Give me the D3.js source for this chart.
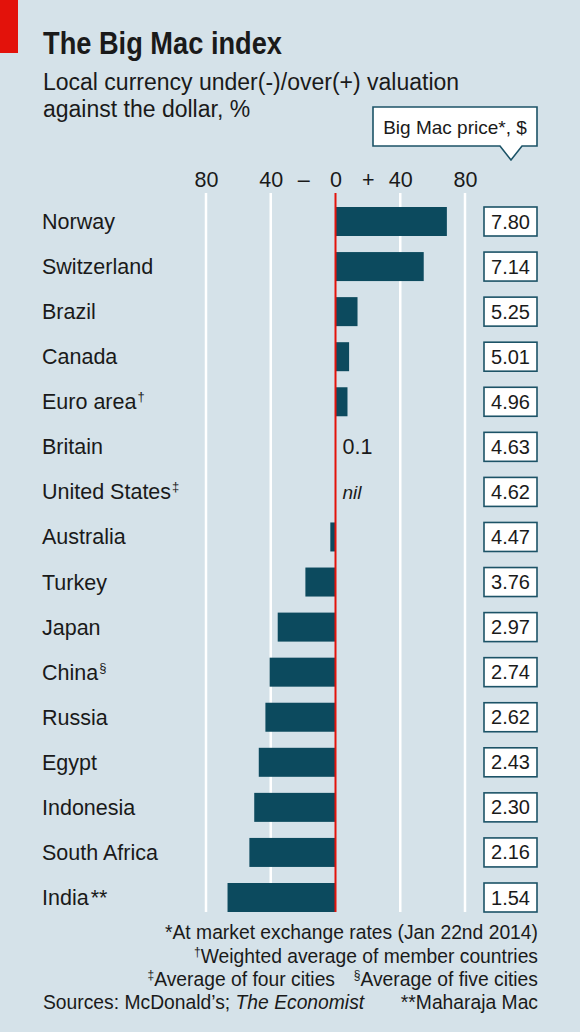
<!DOCTYPE html>
<html lang="en">
<head>
<meta charset="UTF-8" />
<title>The Big Mac index</title>
<script src="https://d3js.org/d3.v7.min.js"></script>
<style>
  body { margin: 0; background: #d5e2e9; }
  svg { display: block; font-family: "Liberation Sans", Arial, sans-serif; }
  .grid { stroke: #fff; stroke-width: 2.5; }
  .zero { stroke: #e3120b; stroke-width: 2; }
  .bar { fill: #0c4a5e; }
  .lbl { font-size: 21.5px; fill: #1a1a1a; }
  .price-box { fill: #fff; stroke: #1c5367; stroke-width: 1.6; }
  .price { font-size: 20px; fill: #1a1a1a; text-anchor: middle; }
  .note { font-size: 19.3px; fill: #1a1a1a; }
</style>
</head>
<body>
<script>
// data
var countries = ["Norway", "Switzerland", "Brazil", "Canada", "Euro area", "Britain",
  "United States", "Australia", "Turkey", "Japan", "China", "Russia", "Egypt",
  "Indonesia", "South Africa", "India"];
var marks = ["", "", "", "", "\u2020", "", "\u2021", "", "", "", "\u00a7", "", "", "", "", "**"];
var valuation = [68.8, 54.5, 13.6, 8.4, 7.4, 0.1, 0, -3.2, -18.6, -35.7, -40.7, -43.3,
  -47.4, -50.2, -53.2, -66.7];
var prices = ["7.80", "7.14", "5.25", "5.01", "4.96", "4.63", "4.62", "4.47", "3.76",
  "2.97", "2.74", "2.62", "2.43", "2.30", "2.16", "1.54"];
var valueNotes = ["", "", "", "", "", "0.1", "nil", "", "", "", "", "", "", "", "", ""];
var gridTicks = [-80, -40, 40, 80];
var axisTicks = [-80, -40, -20, 0, 20, 40, 80];

var width = 580, height = 1032;

var rows = countries.map(function(c, i) {
  return { name: c, mark: marks[i], v: valuation[i], price: prices[i], note: valueNotes[i] };
});

var svg = d3.select("body").append("svg")
  .attr("width", width).attr("height", height);

svg.append("rect").attr("width", width).attr("height", height).attr("fill", "#d5e2e9");
svg.append("rect").attr("x", 0).attr("y", 0).attr("width", 18).attr("height", 53).attr("fill", "#e3120b");

// titles
svg.append("text").attr("x", 43).attr("y", 54)
  .attr("font-size", 31).attr("font-weight", "bold").attr("fill", "#1a1a1a")
  .attr("textLength", 239).attr("lengthAdjust", "spacingAndGlyphs")
  .text("The Big Mac index");
svg.append("text").attr("x", 43).attr("y", 90).attr("font-size", 23).attr("fill", "#1a1a1a")
  .text("Local currency under(-)/over(+) valuation");
svg.append("text").attr("x", 43).attr("y", 117).attr("font-size", 23).attr("fill", "#1a1a1a")
  .text("against the dollar, %");

// scales
var x = d3.scaleLinear().domain([-80, 80]).range([206, 465]);
var y = d3.scalePoint().domain(countries).range([221.5, 897.5]);
var barH = 29, plotTop = 193, plotBottom = 912;

// grid
svg.selectAll(".grid").data(gridTicks).enter().append("line")
  .attr("class", "grid")
  .attr("x1", function(d) { return x(d); }).attr("x2", function(d) { return x(d); })
  .attr("y1", plotTop).attr("y2", plotBottom);

// axis labels on top
var axis = svg.append("g").attr("transform", "translate(0,187)")
  .call(d3.axisTop(x).tickValues(axisTicks).tickSize(0)
    .tickFormat(function(d) { return d === -20 ? "\u2013" : d === 20 ? "+" : Math.abs(d); }));
axis.select(".domain").remove();
axis.selectAll("text").attr("y", 0).attr("dy", 0)
  .attr("font-size", 21.5).attr("fill", "#1a1a1a")
  .attr("font-family", "Liberation Sans, Arial, sans-serif");

// bars
svg.selectAll(".bar").data(rows).enter().append("rect")
  .attr("class", "bar")
  .attr("x", function(d) { return x(Math.min(0, d.v)); })
  .attr("width", function(d) { return Math.abs(x(d.v) - x(0)); })
  .attr("y", function(d) { return y(d.name) - barH / 2; })
  .attr("height", barH);

svg.append("line").attr("class", "zero")
  .attr("x1", x(0)).attr("x2", x(0)).attr("y1", plotTop).attr("y2", plotBottom);

// country labels
var lbl = svg.selectAll(".lbl").data(rows).enter().append("text")
  .attr("class", "lbl")
  .attr("x", 42)
  .attr("y", function(d) { return y(d.name) + 7.5; });
lbl.append("tspan").text(function(d) { return d.name; });
lbl.filter(function(d) { return d.mark && d.mark !== "**"; }).append("tspan")
  .attr("font-size", 13).attr("dy", -8).attr("dx", 1)
  .text(function(d) { return d.mark; });
lbl.filter(function(d) { return d.mark === "**"; }).append("tspan")
  .attr("dx", 2).text("**");

// value notes (0.1, nil)
svg.selectAll(".vnote").data(rows.filter(function(d) { return d.note; })).enter().append("text")
  .attr("x", x(0) + 7)
  .attr("y", function(d) { return y(d.name) + 7.5; })
  .attr("font-size", function(d) { return d.note === "nil" ? 19 : 21.5; })
  .attr("font-style", function(d) { return d.note === "nil" ? "italic" : "normal"; })
  .attr("fill", "#1a1a1a")
  .text(function(d) { return d.note; });

// price boxes
svg.selectAll(".price-box").data(rows).enter().append("rect")
  .attr("class", "price-box")
  .attr("x", 484).attr("width", 53)
  .attr("y", function(d) { return y(d.name) - barH / 2; })
  .attr("height", barH);
svg.selectAll(".price").data(rows).enter().append("text")
  .attr("class", "price")
  .attr("x", 510.5)
  .attr("y", function(d) { return y(d.name) + 7; })
  .text(function(d) { return d.price; });

// callout
svg.append("path")
  .attr("d", "M373,107 H537 V146 H522 L511,160 L500,146 H373 Z")
  .attr("fill", "#fff").attr("stroke", "#1c5367").attr("stroke-width", 1.6);
svg.append("text").attr("x", 455).attr("y", 134).attr("text-anchor", "middle")
  .attr("font-size", 19).attr("fill", "#1a1a1a").text("Big Mac price*, $");

// footnotes
function note(xp, yp, anchor, parts) {
  var t = svg.append("text").attr("class", "note").attr("x", xp).attr("y", yp)
    .attr("text-anchor", anchor);
  parts.forEach(function(p) {
    var s = t.append("tspan").text(p.t);
    if (p.sup) s.attr("font-size", 12).attr("dy", -7);
    if (p.down) s.attr("dy", 7);
    if (p.it) s.attr("font-style", "italic");
  });
}
note(538, 939, "end", [{ t: "*At market exchange rates (Jan 22nd 2014)" }]);
note(538, 963, "end", [{ t: "\u2020", sup: true }, { t: "Weighted average of member countries", down: true }]);
note(335, 986, "end", [{ t: "\u2021", sup: true }, { t: "Average of four cities", down: true }]);
note(538, 986, "end", [{ t: "\u00a7", sup: true }, { t: "Average of five cities", down: true }]);
note(43, 1009, "start", [{ t: "Sources: McDonald\u2019s; " }, { t: "The Economist", it: true }]);
note(538, 1009, "end", [{ t: "**Maharaja Mac" }]);
</script>
</body>
</html>
